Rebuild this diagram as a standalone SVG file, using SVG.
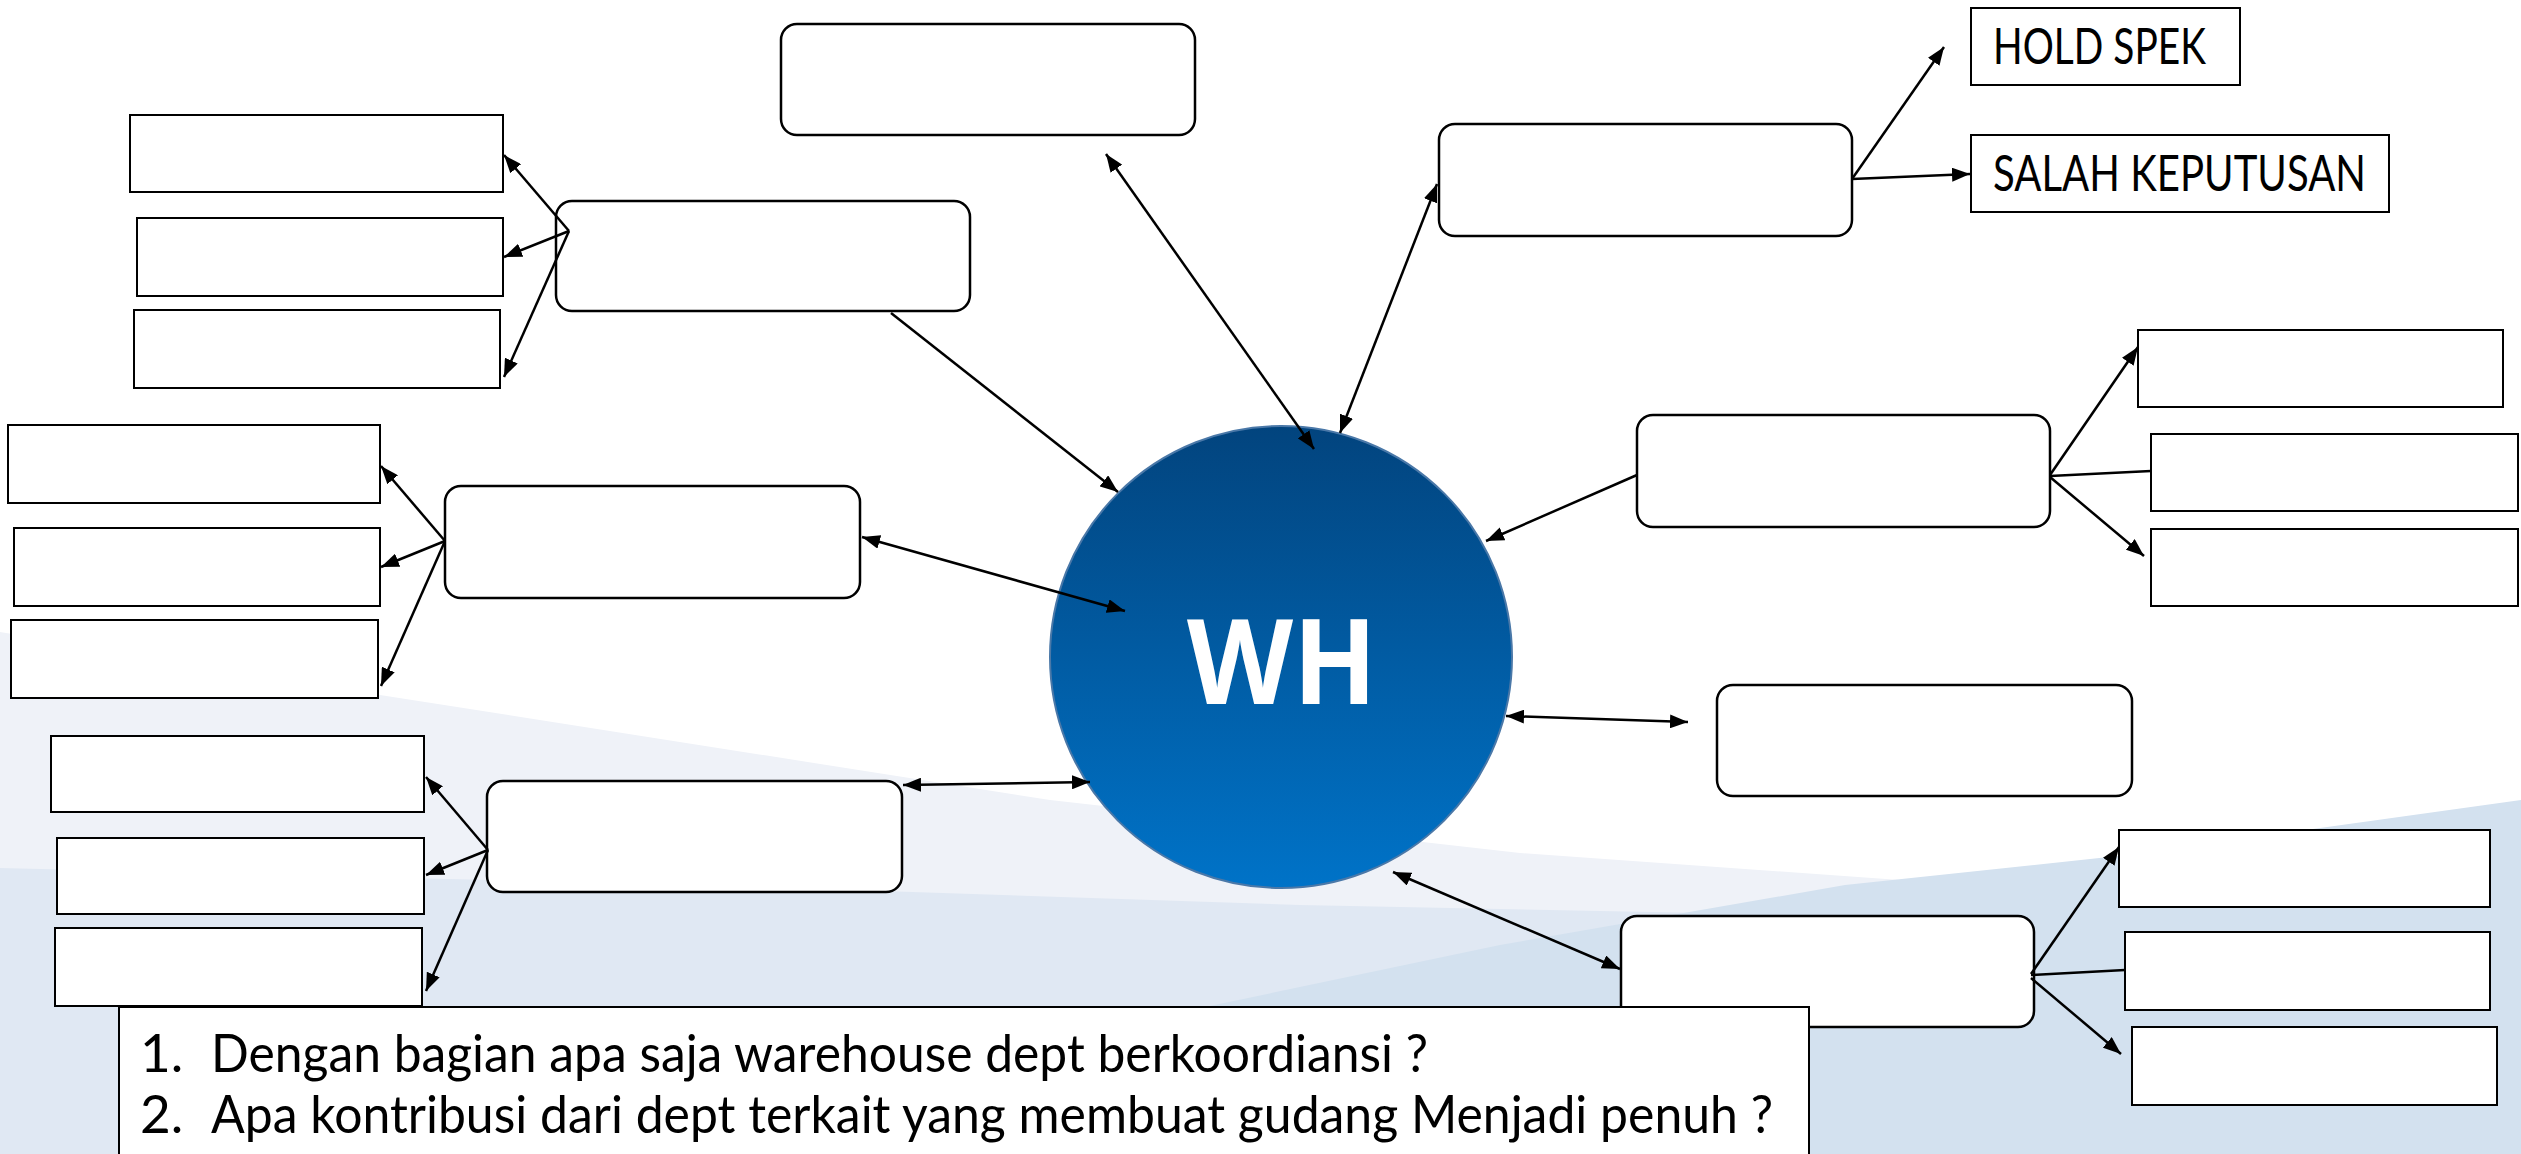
<svg xmlns="http://www.w3.org/2000/svg" width="2521" height="1154" viewBox="0 0 2521 1154">
<style>
.rn{fill:#fff;stroke:#000;stroke-width:2.5}
.pr{fill:#fff;stroke:#000;stroke-width:2}
.c{stroke:#000;stroke-width:2.5;fill:none}
.lbl{font-family:Lato,"Open Sans","Liberation Sans",sans-serif;font-size:50px;fill:#000}
.q{font-family:Lato,"Open Sans","Liberation Sans",sans-serif;font-size:53px;fill:#000}
</style>
<defs>
<marker id="ah" viewBox="0 0 18 14" refX="18" refY="7" markerWidth="18" markerHeight="14" markerUnits="userSpaceOnUse" orient="auto-start-reverse">
<path d="M0,0 L18,7 L0,14 z" fill="#000"/>
</marker>
<linearGradient id="wg" x1="0" y1="0" x2="0" y2="1">
<stop offset="0" stop-color="#02447e"/>
<stop offset="1" stop-color="#0073c8"/>
</linearGradient>
</defs>
<rect width="2521" height="1154" fill="#fff"/>
<g id="background">
<path d="M0,632 L380,695 L1050,800 L1520,853 L1900,880 L2521,900 L2521,1154 L0,1154 Z" fill="#eff2f8"/>
<path d="M0,868 L700,885 L1300,905 L1800,915 L2521,925 L2521,1154 L0,1154 Z" fill="#e0e8f3"/>
<path d="M1000,1050 L1500,945 L1845,885 L2118,856 L2521,800 L2521,1154 L1000,1154 Z" fill="#d3e1ef"/>
</g>
<g id="wh">
<circle cx="1281" cy="657" r="231" fill="url(#wg)" stroke="#4a78a8" stroke-width="2"/>
<text x="1282" y="704" text-anchor="middle" font-family="'Open Sans',Lato,sans-serif" font-weight="700" font-size="118" fill="#fff" textLength="190" lengthAdjust="spacingAndGlyphs">WH</text>
</g>
<g id="n1"><rect class="rn" x="781" y="24" width="414" height="111" rx="16"/></g>
<g id="n2"><rect class="rn" x="556" y="201" width="414" height="110" rx="16"/></g>
<g id="n3"><rect class="rn" x="445" y="486" width="415" height="112" rx="16"/></g>
<g id="n4"><rect class="rn" x="487" y="781" width="415" height="111" rx="16"/></g>
<g id="n5"><rect class="rn" x="1439" y="124" width="413" height="112" rx="16"/></g>
<g id="n6"><rect class="rn" x="1637" y="415" width="413" height="112" rx="16"/></g>
<g id="n7"><rect class="rn" x="1717" y="685" width="415" height="111" rx="16"/></g>
<g id="n8"><rect class="rn" x="1621" y="916" width="413" height="111" rx="16"/></g>
<g id="a1"><rect class="pr" x="130" y="115" width="373" height="77"/></g>
<g id="a2"><rect class="pr" x="137" y="218" width="366" height="78"/></g>
<g id="a3"><rect class="pr" x="134" y="310" width="366" height="78"/></g>
<g id="b1"><rect class="pr" x="8" y="425" width="372" height="78"/></g>
<g id="b2"><rect class="pr" x="14" y="528" width="366" height="78"/></g>
<g id="b3"><rect class="pr" x="11" y="620" width="367" height="78"/></g>
<g id="c1"><rect class="pr" x="51" y="736" width="373" height="76"/></g>
<g id="c2"><rect class="pr" x="57" y="838" width="367" height="76"/></g>
<g id="hold"><rect class="pr" x="1971" y="8" width="269" height="77"/><text class="lbl" x="1993" y="64" textLength="213" lengthAdjust="spacingAndGlyphs">HOLD SPEK</text></g>
<g id="salah"><rect class="pr" x="1971" y="135" width="418" height="77"/><text class="lbl" x="1993" y="191" textLength="373" lengthAdjust="spacingAndGlyphs">SALAH KEPUTUSAN</text></g>
<g id="d1"><rect class="pr" x="2138" y="330" width="365" height="77"/></g>
<g id="d2"><rect class="pr" x="2151" y="434" width="367" height="77"/></g>
<g id="d3"><rect class="pr" x="2151" y="529" width="367" height="77"/></g>
<g id="e1"><rect class="pr" x="2119" y="830" width="371" height="77"/></g>
<g id="e2"><rect class="pr" x="2125" y="932" width="365" height="78"/></g>
<g id="e3"><rect class="pr" x="2132" y="1027" width="365" height="78"/></g>
<g id="questions">
<rect class="pr" x="119" y="1007" width="1690" height="160"/>
<text class="q" x="140" y="1072">1.</text>
<text class="q" x="211" y="1072" textLength="1217" lengthAdjust="spacingAndGlyphs">Dengan bagian apa saja warehouse dept berkoordiansi ?</text>
<text class="q" x="140" y="1133">2.</text>
<text class="q" x="211" y="1133" textLength="1562" lengthAdjust="spacingAndGlyphs">Apa kontribusi dari dept terkait yang membuat gudang Menjadi penuh ?</text>
</g>
<g id="c3"><rect class="pr" x="55" y="928" width="367" height="78"/></g>
<g id="connectors">
<line class="c" x1="891" y1="313" x2="1118" y2="492" marker-end="url(#ah)"/>
<line class="c" x1="1106" y1="154" x2="1314" y2="449" marker-start="url(#ah)" marker-end="url(#ah)"/>
<line class="c" x1="1437" y1="184" x2="1340" y2="433" marker-start="url(#ah)" marker-end="url(#ah)"/>
<line class="c" x1="1852" y1="179" x2="1944" y2="47" marker-end="url(#ah)"/>
<line class="c" x1="1852" y1="179" x2="1970" y2="174" marker-end="url(#ah)"/>
<line class="c" x1="1637" y1="475" x2="1486" y2="541" marker-end="url(#ah)"/>
<line class="c" x1="2050" y1="475" x2="2138" y2="347" marker-end="url(#ah)"/>
<line class="c" x1="2050" y1="476" x2="2151" y2="471"/>
<line class="c" x1="2050" y1="477" x2="2144" y2="556" marker-end="url(#ah)"/>
<line class="c" x1="1506" y1="716" x2="1688" y2="722" marker-start="url(#ah)" marker-end="url(#ah)"/>
<line class="c" x1="1393" y1="872" x2="1620" y2="969" marker-start="url(#ah)" marker-end="url(#ah)"/>
<line class="c" x1="2031" y1="974" x2="2119" y2="847" marker-end="url(#ah)"/>
<line class="c" x1="2031" y1="975" x2="2125" y2="970"/>
<line class="c" x1="2031" y1="978" x2="2121" y2="1054" marker-end="url(#ah)"/>
<line class="c" x1="903" y1="785" x2="1090" y2="782" marker-start="url(#ah)" marker-end="url(#ah)"/>
<line class="c" x1="862" y1="537" x2="1125" y2="611" marker-start="url(#ah)" marker-end="url(#ah)"/>
<line class="c" x1="569" y1="231" x2="504" y2="155" marker-end="url(#ah)"/>
<line class="c" x1="569" y1="231" x2="504" y2="257" marker-end="url(#ah)"/>
<line class="c" x1="569" y1="231" x2="504" y2="377" marker-end="url(#ah)"/>
<line class="c" x1="445" y1="541" x2="381" y2="466" marker-end="url(#ah)"/>
<line class="c" x1="445" y1="541" x2="381" y2="567" marker-end="url(#ah)"/>
<line class="c" x1="445" y1="541" x2="381" y2="686" marker-end="url(#ah)"/>
<line class="c" x1="488" y1="850" x2="426" y2="777" marker-end="url(#ah)"/>
<line class="c" x1="488" y1="850" x2="426" y2="875" marker-end="url(#ah)"/>
<line class="c" x1="488" y1="850" x2="426" y2="991" marker-end="url(#ah)"/>
</g>
</svg>
